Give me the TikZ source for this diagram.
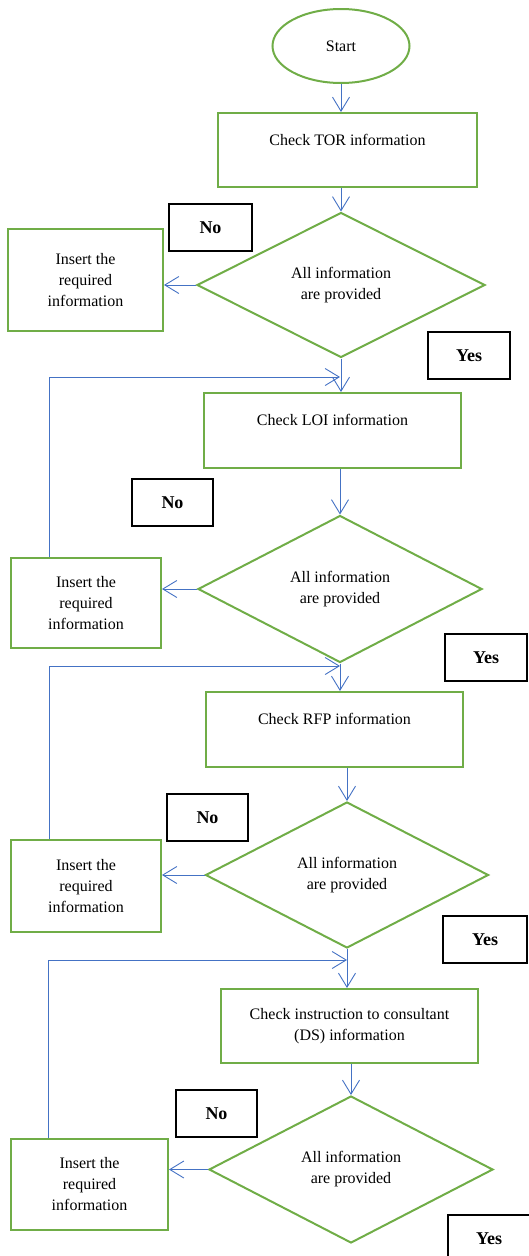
\documentclass[tikz,border=0pt]{standalone}
\usepackage{fontspec}
\setmainfont{Liberation Serif}
\usetikzlibrary{shapes.geometric,arrows.meta}
\definecolor{boxgreen}{HTML}{70AD47}
\definecolor{lineblue}{HTML}{4472C4}
\begin{document}
\begin{tikzpicture}[x=1pt, y=-1pt,
  box/.style={draw=boxgreen, line width=2pt, align=center, font=\fontsize{16}{21}\selectfont},
  dec/.style={box, diamond, inner sep=0pt, minimum width=284pt, minimum height=147pt},
  tag/.style={draw=black, line width=1.8pt, minimum width=81pt, minimum height=47pt, font=\fontsize{18}{21}\selectfont\bfseries},
  arr/.style={draw=lineblue, line width=0.9pt, -{Straight Barb[length=14pt,width=17pt]}}] %px
\useasboundingbox (0,0) rectangle (528,1256);
\node[box, ellipse, minimum width=137pt, minimum height=74pt] (S_0) at (341,46) {Start};
\node[box, minimum width=259pt, minimum height=74pt] (C_1) at (347.5,150) {Check TOR information\\ ~};
\draw[arr] (S_0) -- (S_0 |- C_1.north);
\node[dec, minimum width=288pt, minimum height=145pt] (D_1) at (341,285) {All information\\are provided};
\draw[arr] (D_1.north |- C_1.south) -- (D_1.north);
\node[box, minimum width=155pt, minimum height=102pt] (I_1) at (85.5,280) {Insert the\\required\\information};
\draw[arr] (D_1.west) -- (D_1.west -| I_1.east);
\node[tag, minimum width=83pt] (N_1) at (210.5,227.5) {No};
\node[tag, minimum width=82pt] (Y_1) at (469,355.5) {Yes};
% LOI
\node[box, minimum width=257pt, minimum height=75pt] (C_2) at (332.5,430.5) {Check LOI information\\ ~};
\draw[arr] (D_1.south) -- (D_1.south |- C_2.north);
\node[dec] (D_2) at (340,589) {All information\\are provided};
\draw[arr] (D_2.north |- C_2.south) -- (D_2.north);
\node[box, minimum width=150pt, minimum height=90pt] (I_2) at (86,603) {Insert the\\required\\information};
\draw[arr] (D_2.west) -- (D_2.west -| I_2.east);
\coordinate (L_2) at (49,377);
\draw[arr] (L_2 |- I_2.north) -- (L_2) -- (L_2 -| D_2.north);
\node[tag] (N_2) at (172.5,502.5) {No};
\node[tag, minimum width=82pt] (Y_2) at (486,657.5) {Yes};
% RFP
\node[box, minimum width=257pt, minimum height=75pt] (C_3) at (334.5,729.5) {Check RFP information\\ ~};
\draw[arr] (D_2.south) -- (D_2.south |- C_3.north);
\node[dec, minimum width=283pt, minimum height=146pt] (D_3) at (347,875) {All information\\are provided};
\draw[arr] (D_3.north |- C_3.south) -- (D_3.north);
\node[box, minimum width=150pt, minimum height=92pt] (I_3) at (86,886) {Insert the\\required\\information};
\draw[arr] (D_3.west) -- (D_3.west -| I_3.east);
\coordinate (L_3) at (49,666);
\draw[arr] (L_3 |- I_3.north) -- (L_3) -- (L_3 -| D_2.south);
\node[tag] (N_3) at (207.5,817.5) {No};
\node[tag, minimum width=84pt] (Y_3) at (485,939.5) {Yes};
% DS
\node[box, minimum width=257pt, minimum height=74pt] (C_4) at (349.5,1026) {Check instruction to consultant\\(DS) information};
\draw[arr] (D_3.south) -- (D_3.south |- C_4.north);
\node[dec] (D_4) at (351,1169.5) {All information\\are provided};
\draw[arr] (D_4.north |- C_4.south) -- (D_4.north);
\node[box, minimum width=157pt, minimum height=91pt] (I_4) at (89.5,1184.5) {Insert the\\required\\information};
\draw[arr] (D_4.west) -- (D_4.west -| I_4.east);
\coordinate (L_4) at (48,960);
\draw[arr] (L_4 |- I_4.north) -- (L_4) -- (L_4 -| D_3.south);
\node[tag] (N_4) at (216.5,1113.5) {No};
\node[tag, minimum width=82pt] (Y_4) at (489,1238.5) {Yes};
\end{tikzpicture}
\end{document}
